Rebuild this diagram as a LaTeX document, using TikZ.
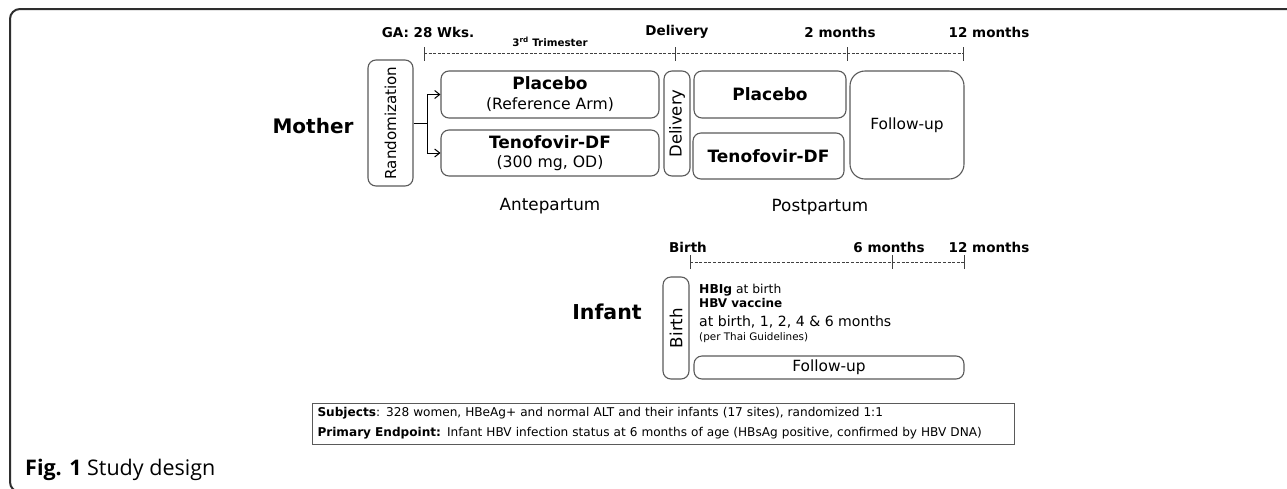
\documentclass[tikz,border=0pt]{standalone}
\usepackage{fontspec}
\setmainfont{DejaVu Sans}
\newfontfamily\capfont{Open Sans}
\usetikzlibrary{arrows.meta}
\definecolor{boxgray}{HTML}{5A5A5A}
\definecolor{framegray}{HTML}{2E2E2E}
\definecolor{dashgray}{HTML}{404040}
\newcommand{\fsz}[2]{\fontsize{#1}{#2}\selectfont}
\begin{document}
\begin{tikzpicture}[x=1pt,y=-1pt,
  box/.style={draw=boxgray, line width=1.1pt, rounded corners=8pt, inner sep=0pt, align=center},
  hdr/.style={font=\bfseries\fsz{13.5}{16}, inner sep=0pt},
  big/.style={font=\bfseries\fsz{20}{24}, inner sep=0pt},
  dashline/.style={draw=dashgray, line width=0.9pt, dash pattern=on 3pt off 1.6pt},
  tickline/.style={draw=dashgray, line width=0.9pt},
  conn/.style={draw=black, line width=1pt},
  arr/.style={conn, -{Straight Barb[length=5pt,width=8pt]}},
  plain/.style={inner sep=0pt}
]
\useasboundingbox (0,0) rectangle (1287,488);
\fill[white] (0,0) rectangle (1287,488);
% frame
\draw[framegray, line width=2pt, rounded corners=10pt] (1300,9) -- (10,9) -- (10,492) -- (80,492);

% ---------- Mother timeline ----------
\coordinate (m0) at (424,53);
\coordinate (m1) at (675,53);
\coordinate (m2) at (847,53);
\coordinate (m3) at (963,53);
\draw[dashline] (m0) -- (m3);
\foreach \c in {m0,m1,m2,m3} \draw[tickline] (\c) ++(0,-6) -- ++(0,14);
\node[hdr] (lga) at (428,32) {GA: 28 Wks.};
\node[hdr] (ldel) at (677,32) {Delivery};
\node[hdr] (l2m) at (840,32) {2 months};
\node[hdr] (l12m) at (989,32) {12 months};
\node[plain, font=\bfseries\fsz{10.3}{12}] (ltri) at (550,42) {3\textsuperscript{rd} Trimester};

% ---------- Mother arms ----------
\node[big] (mother) at (313,126) {Mother};
\node[box, rotate=90, minimum width=126pt, minimum height=45pt, font=\fsz{15.1}{18}] (rand) at (390.5,123) {Randomization};
\node[box, minimum width=218pt, minimum height=47pt, font=\fsz{16}{20}] (apl) at (550,94.5)
  {{\bfseries\fsz{17}{20}Placebo}\\{\fsz{15.6}{20}(Reference Arm)}};
\node[box, minimum width=218pt, minimum height=46pt, font=\fsz{16}{19}] (atdf) at (550,153)
  {{\bfseries\fsz{17}{20}Tenofovir-DF}\\{\fsz{15.7}{19}(300 mg, OD)}};
\draw[conn] (rand.south) -- ++(14,0) coordinate (split);
\draw[arr] (split) |- (apl.west);
\draw[arr] (split) |- (atdf.west);
\node[box, rotate=90, minimum width=105pt, minimum height=26pt, font=\fsz{16.4}{19}] (deliv) at (677,123.5) {Delivery};
\node[box, minimum width=152pt, minimum height=47pt, font=\bfseries\fsz{17}{20}] (ppl) at (770,94.5) {Placebo};
\node[box, minimum width=151pt, minimum height=46pt, font=\bfseries\fsz{17}{20}] (ptdf) at (768.5,156) {Tenofovir-DF};
\node[box, rounded corners=15pt, minimum width=114pt, minimum height=108pt, font=\fsz{15.4}{18}] (mfu) at (907,125) {Follow-up};
\node[plain, font=\fsz{16.8}{20}] (ante) at (550,206) {Antepartum};
\node[plain, font=\fsz{16.8}{20}] (post) at (820,207) {Postpartum};

% ---------- Infant timeline ----------
\coordinate (i0) at (690,262);
\coordinate (i1) at (892,262);
\coordinate (i2) at (964,262);
\draw[dashline] (i0) -- (i2);
\foreach \c in {i0,i1,i2} \draw[tickline] (\c) ++(0,-7) -- ++(0,14);
\node[hdr] (lbirth) at (688,247) {Birth};
\node[hdr] (l6m) at (889,247) {6 months};
\node[hdr] (li12m) at (989,247) {12 months};

% ---------- Infant ----------
\node[big, font=\bfseries\fsz{20.5}{24}] (infant) at (607,312) {Infant};
\node[box, rotate=90, minimum width=102pt, minimum height=26pt, font=\fsz{16.7}{19}] (birth) at (676,328) {Birth};
\node[plain, anchor=base west, font=\fsz{12.3}{14}] (itx1) at (699,293.5) {{\bfseries HBIg} at birth};
\node[plain, anchor=base west, font=\bfseries\fsz{12}{14}] (itx2) at (699,307.5) {HBV vaccine};
\node[plain, anchor=base west, font=\fsz{14.1}{17}] (itx3) at (699,326) {at birth, 1, 2, 4 \& 6 months};
\node[plain, anchor=base west, font=\fsz{10.4}{13}] (itx4) at (699,340.8) {(per Thai Guidelines)};
\node[box, minimum width=270pt, minimum height=23pt, font=\fsz{15.4}{18}] (ifu) at (829,367.5) {Follow-up};

% ---------- Summary box ----------
\node[draw=boxgray, line width=1pt, anchor=west, minimum width=702pt, minimum height=41pt,
      inner xsep=5pt, inner ysep=0pt, align=left, text width=692pt, font=\fsz{12.1}{20}] (summ) at (312,423.5)
  {{\bfseries Subjects}: 328 women, HBeAg+ and normal ALT and their infants (17 sites), randomized 1:1\\
   {\bfseries Primary Endpoint:} Infant HBV infection status at 6 months of age (HBsAg positive, confirmed by HBV DNA)};

% ---------- Caption ----------
\node[plain, anchor=west, font=\capfont\fsz{21.5}{24}] (cap) at (25,470) {{\bfseries Fig. 1} Study design};
\end{tikzpicture}
\end{document}
